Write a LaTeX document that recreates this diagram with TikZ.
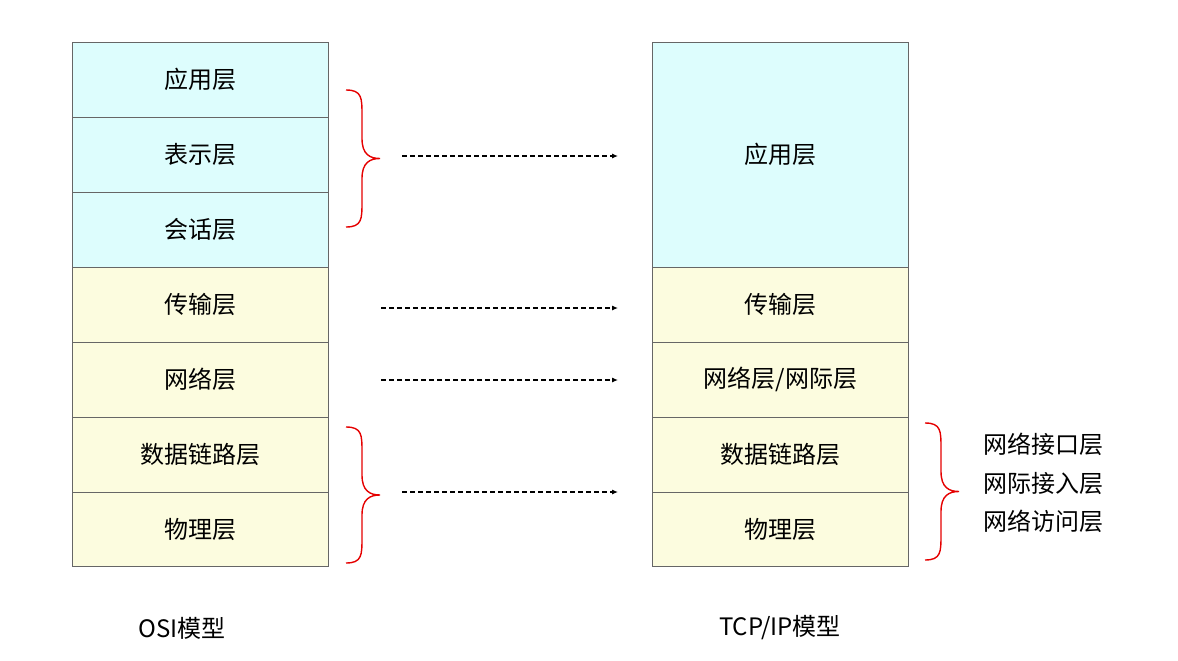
\documentclass[tikz,border=0pt]{standalone}
\usepackage{fontspec}
\setmainfont{Noto Sans CJK SC}
\usetikzlibrary{arrows.meta}
\definecolor{cy}{HTML}{DDFDFD}
\definecolor{yl}{HTML}{FCFCDF}
\begin{document}
\begin{tikzpicture}[x=1pt,y=-1pt,
 box/.style={draw=gray!80!black,line width=0.6pt,minimum width=256pt,inner sep=0pt,font=\fontsize{24}{28}\selectfont},
 arr/.style={dash pattern=on 5pt off 3pt,line width=1.1pt,-{Latex[length=6pt,width=5pt]}},
 br/.style={red!90!black,line width=1.4pt},
 lab/.style={font=\fontsize{24}{28}\selectfont}]
\useasboundingbox (0,0) rectangle (1178,661);
\newcommand\lay[6]{\node[box,fill=#5,minimum height=#4pt,anchor=north west] (#1) at (#2,#3) {#6};}
\lay{a1}{72}{42}{75}{cy}{应用层}
\lay{a2}{72}{117}{75}{cy}{表示层}
\lay{a3}{72}{192}{75}{cy}{会话层}
\lay{a4}{72}{267}{75}{yl}{传输层}
\lay{a5}{72}{342}{75}{yl}{网络层}
\lay{a6}{72}{417}{75}{yl}{数据链路层}
\lay{a7}{72}{492}{74}{yl}{物理层}
\lay{b1}{652}{42}{225}{cy}{应用层}
\lay{b4}{652}{267}{75}{yl}{传输层}
\lay{b5}{652}{342}{75}{yl}{网络层/网际层}
\lay{b6}{652}{417}{75}{yl}{数据链路层}
\lay{b7}{652}{492}{74}{yl}{物理层}
\newcommand\mybrace[3]{\draw[br] (#1,#2) .. controls ({#1+16},#2) and ({#1+16},{#2+8}) .. ({#1+16},{#2+25}) -- ({#1+16},{(#2+#3)/2-20}) .. controls ({#1+16},{(#2+#3)/2-4}) and ({#1+24},{(#2+#3)/2}) .. ({#1+34},{(#2+#3)/2}) .. controls ({#1+24},{(#2+#3)/2}) and ({#1+16},{(#2+#3)/2+4}) .. ({#1+16},{(#2+#3)/2+20}) -- ({#1+16},{#3-25}) .. controls ({#1+16},{#3-8}) and ({#1+16},#3) .. (#1,#3);}
\mybrace{346}{90}{227}
\mybrace{346}{427}{563}
\mybrace{925}{423}{560}
\coordinate (s1) at (402,156); \coordinate (t1) at (618,156);
\coordinate (s2) at (381,308); \coordinate (t2) at (618,308);
\coordinate (s3) at (381,380); \coordinate (t3) at (618,380);
\coordinate (s4) at (402,492); \coordinate (t4) at (618,492);
\draw[arr] (s1) -- (t1); \draw[arr] (s2) -- (t2);
\draw[arr] (s3) -- (t3); \draw[arr] (s4) -- (t4);
\node[lab] (o) at (182,628) {OSI模型};
\node[lab] (t) at (780,628) {TCP/IP模型};
\node[lab] (r1) at (1043,444) {网络接口层};
\node[lab] (r2) at (1043,483) {网际接入层};
\node[lab] (r3) at (1043,521) {网络访问层};
\end{tikzpicture}
\end{document}
